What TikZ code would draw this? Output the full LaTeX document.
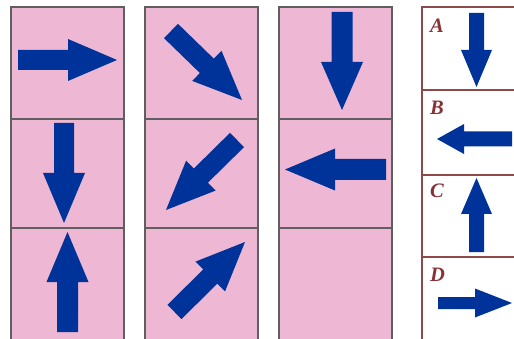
\documentclass[tikz,border=0pt]{standalone}
\usepackage{fontspec}
\setmainfont{Liberation Serif}
\usetikzlibrary{calc}
\definecolor{cellpink}{RGB}{238,184,212}
\definecolor{arrowblue}{RGB}{0,51,153}
\definecolor{gridgrey}{RGB}{95,95,95}
\definecolor{panelred}{RGB}{142,74,74}
\definecolor{labelred}{RGB}{135,50,55}
\newcommand\blockarrow[5]{%
  \coordinate (bt) at #1; \coordinate (bp) at #2;
  \coordinate (bh) at ($(bp)!#5!(bt)$);
  \fill[arrowblue] ($(bt)!#3!90:(bp)$) -- ($(bh)!#3!90:(bp)$) -- ($(bh)!#4!90:(bp)$) -- (bp)
    -- ($(bh)!#4!-90:(bp)$) -- ($(bh)!#3!-90:(bp)$) -- ($(bt)!#3!-90:(bp)$) -- cycle;
}
\tikzset{
  cell/.style={fill=cellpink, draw=gridgrey, line width=1.2pt},
  panelline/.style={draw=panelred, line width=1.3pt},
  optlabel/.style={anchor=base west, inner sep=0pt, text=labelred,
    font=\fontsize{20.5}{20.5}\selectfont\bfseries\itshape}
}
\begin{document}
\begin{tikzpicture}[x=1pt,y=-1pt]
\useasboundingbox (0,0) rectangle (514,339);
\clip (0,0) rectangle (514,339);
% grid cells
\foreach \xa/\xb in {11/124,145/258,279/392}{
  \foreach \ya/\yb in {7/119,119/228,228/345}{
    \path[cell] (\xa,\ya) rectangle (\xb,\yb);
  }
}
% grid arrows
\blockarrow{(18,60)}{(117,60)}{10pt}{21pt}{49pt}
\blockarrow{(171,31)}{(242,100)}{10pt}{21pt}{49pt}
\blockarrow{(342,12)}{(342,110)}{10.5pt}{21pt}{48pt}
\blockarrow{(64,123)}{(64,223)}{10pt}{21pt}{50pt}
\blockarrow{(237,140)}{(166,210)}{10pt}{21pt}{49pt}
\blockarrow{(386,169.5)}{(285,169.5)}{10.5pt}{21pt}{50pt}
\blockarrow{(67.5,332)}{(67.5,232)}{10.5pt}{21pt}{50pt}
\blockarrow{(174.5,312)}{(245,242)}{10pt}{21pt}{49pt}
% right panel
\path[panelline] (530,7) -- (422,7) -- (422,345);
\path[panelline] (422,90) -- (530,90);
\path[panelline] (422,175) -- (530,175);
\path[panelline] (422,257) -- (530,257);
\node[optlabel] (la) at (430,33) {A};
\node[optlabel] (lb) at (430,115) {B};
\node[optlabel] (lc) at (430,198) {C};
\node[optlabel] (ld) at (430,281) {D};
\blockarrow{(476.5,13)}{(476.5,87)}{7.5pt}{15.5pt}{37pt}
\blockarrow{(512,139)}{(437,139)}{7.5pt}{15pt}{27pt}
\blockarrow{(476.5,252)}{(476.5,178)}{7.5pt}{15.5pt}{36pt}
\blockarrow{(438,303)}{(512,303)}{6pt}{14.5pt}{37pt}
\end{tikzpicture}
\end{document}
